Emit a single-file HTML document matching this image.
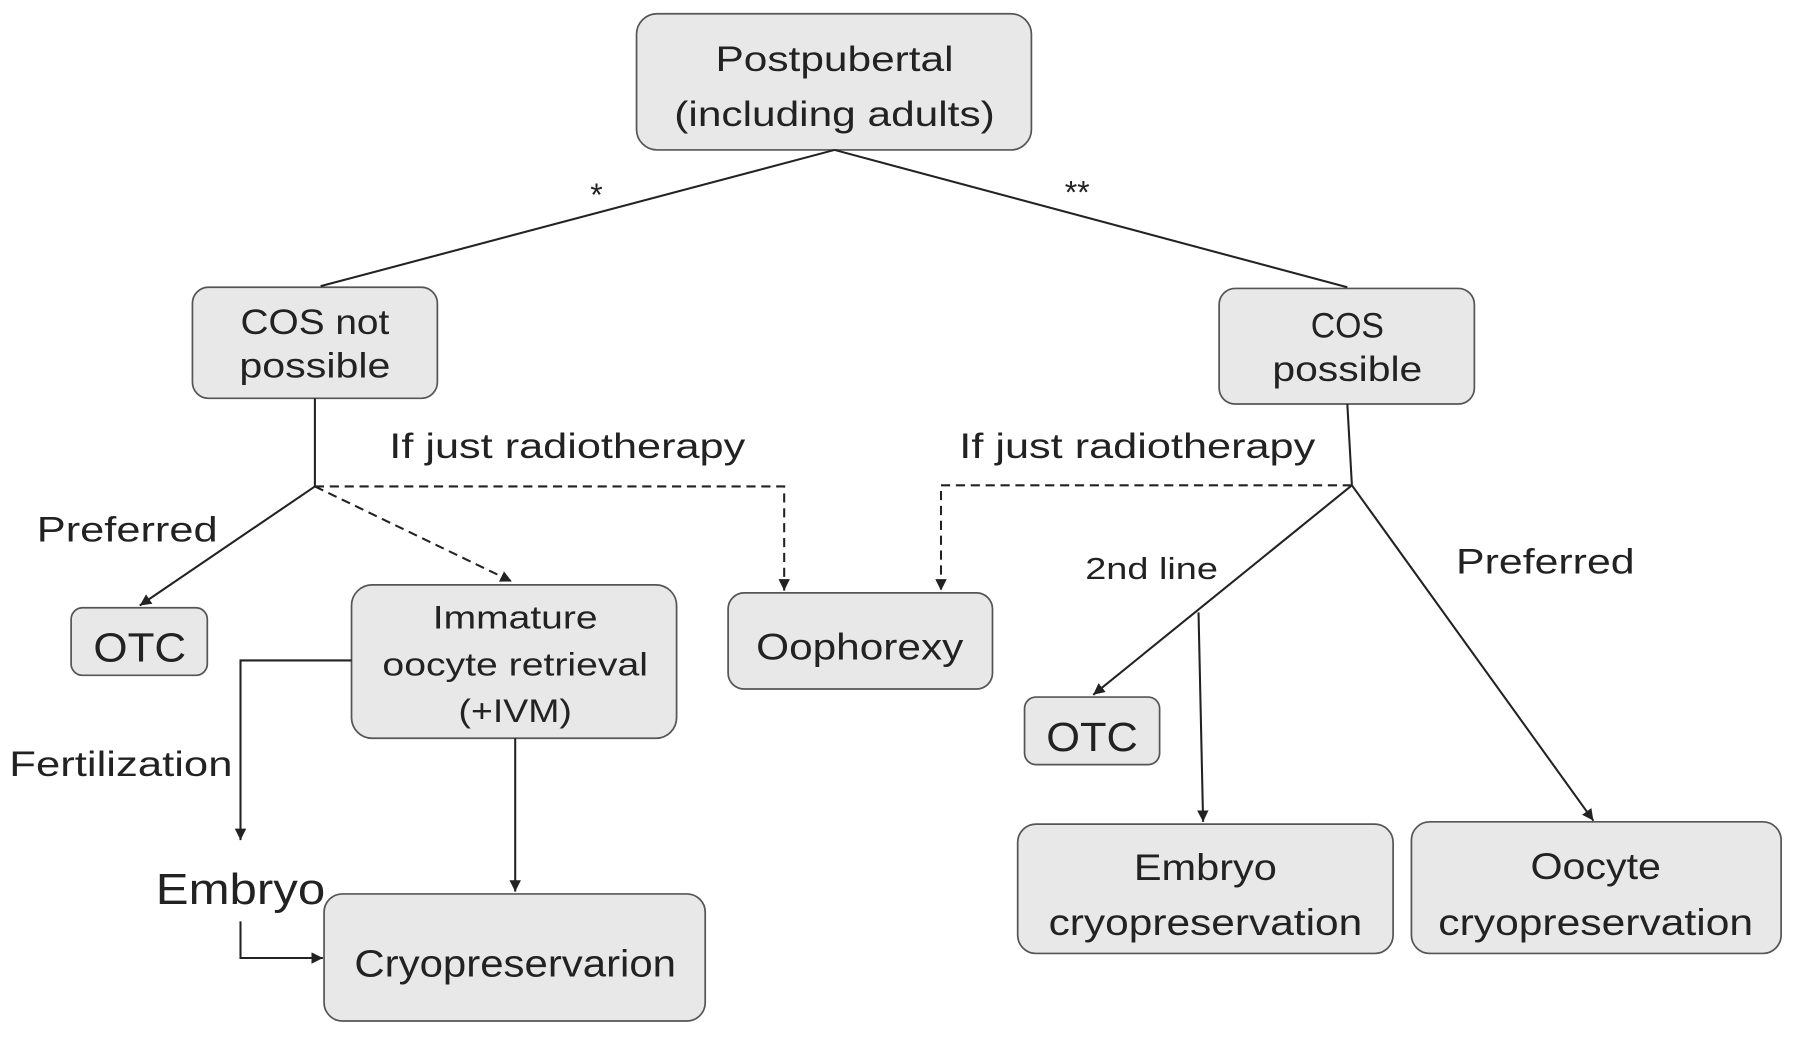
<!DOCTYPE html>
<html><head><style>
html,body{margin:0;padding:0;background:#fff;}
svg{display:block;}
text{font-family:"Liberation Sans",sans-serif;fill:#222;}
</style></head><body>
<svg width="1795" height="1037" viewBox="0 0 1568 906" xmlns="http://www.w3.org/2000/svg">
<defs>
<marker id="a" markerWidth="12" markerHeight="12" refX="10" refY="5" orient="auto" markerUnits="userSpaceOnUse">
<path d="M0,0 L10,5 L0,10 z" fill="#222"/></marker>
</defs>
<g fill="#e8e8e8" stroke="#555" stroke-width="1.5">
<rect x="556" y="12" width="345" height="119" rx="18"/>
<rect x="168" y="251" width="214" height="97" rx="14"/>
<rect x="1065" y="252" width="223" height="101" rx="14"/>
<rect x="62" y="531" width="119" height="59" rx="10"/>
<rect x="307" y="511" width="284" height="134" rx="18"/>
<rect x="636" y="518" width="231" height="84" rx="14"/>
<rect x="895" y="609" width="118" height="59" rx="10"/>
<rect x="889" y="720" width="328" height="113" rx="16"/>
<rect x="1233" y="718" width="323" height="115" rx="16"/>
<rect x="283" y="781" width="333" height="111" rx="16"/>
</g>
<g stroke="#222" stroke-width="1.8" fill="none">
<line x1="729" y1="131" x2="280" y2="250"/>
<line x1="729" y1="131" x2="1177" y2="251"/>
<line x1="275" y1="348" x2="275" y2="425"/>
<line x1="275" y1="425" x2="122" y2="529" marker-end="url(#a)"/>
<polyline points="275,425 685,425 685,516" stroke-dasharray="8,5" marker-end="url(#a)"/>
<line x1="275" y1="425" x2="447" y2="508" stroke-dasharray="8,5" marker-end="url(#a)"/>
<line x1="1177" y1="353" x2="1181" y2="424"/>
<polyline points="1181,424 822,424 822,516" stroke-dasharray="8,5" marker-end="url(#a)"/>
<line x1="1181" y1="424" x2="955" y2="607" marker-end="url(#a)"/>
<line x1="1181" y1="424" x2="1392" y2="717" marker-end="url(#a)"/>
<line x1="1047" y1="535" x2="1051" y2="718" marker-end="url(#a)"/>
<polyline points="307,577 210,577 210,734" marker-end="url(#a)"/>
<polyline points="210,805 210,837 282,837" marker-end="url(#a)"/>
<line x1="450" y1="645" x2="450" y2="779" marker-end="url(#a)"/>
</g>
<g text-anchor="middle" font-size="31" lengthAdjust="spacingAndGlyphs">
<text x="729" y="62" textLength="208" lengthAdjust="spacingAndGlyphs">Postpubertal</text>
<text x="729" y="110" textLength="280" lengthAdjust="spacingAndGlyphs">(including adults)</text>
<text x="275" y="292" textLength="130" lengthAdjust="spacingAndGlyphs">COS not</text>
<text x="275" y="330" textLength="132" lengthAdjust="spacingAndGlyphs">possible</text>
<text x="1177" y="295" textLength="64" lengthAdjust="spacingAndGlyphs">COS</text>
<text x="1177" y="333" textLength="131" lengthAdjust="spacingAndGlyphs">possible</text>
<text x="122" y="578" font-size="36" textLength="81" lengthAdjust="spacingAndGlyphs">OTC</text>
<text x="450" y="549" font-size="28" textLength="144" lengthAdjust="spacingAndGlyphs">Immature</text>
<text x="450" y="590" font-size="28" textLength="232" lengthAdjust="spacingAndGlyphs">oocyte retrieval</text>
<text x="450" y="631" font-size="28" textLength="99" lengthAdjust="spacingAndGlyphs">(+IVM)</text>
<text x="751" y="576" font-size="32" textLength="181" lengthAdjust="spacingAndGlyphs">Oophorexy</text>
<text x="954" y="656" font-size="36" textLength="80" lengthAdjust="spacingAndGlyphs">OTC</text>
<text x="1053" y="769" font-size="32" textLength="125" lengthAdjust="spacingAndGlyphs">Embryo</text>
<text x="1053" y="817" font-size="32" textLength="274" lengthAdjust="spacingAndGlyphs">cryopreservation</text>
<text x="1394" y="768" font-size="32" textLength="114" lengthAdjust="spacingAndGlyphs">Oocyte</text>
<text x="1394" y="817" font-size="32" textLength="275" lengthAdjust="spacingAndGlyphs">cryopreservation</text>
<text x="450" y="853" font-size="33" textLength="281" lengthAdjust="spacingAndGlyphs">Cryopreservarion</text>
<text x="521" y="180" font-size="28">*</text>
<text x="941" y="178" font-size="28">**</text>
</g>
<g font-size="31">
<text x="32" y="473" textLength="158" lengthAdjust="spacingAndGlyphs">Preferred</text>
<text x="340" y="400" textLength="311" lengthAdjust="spacingAndGlyphs">If just radiotherapy</text>
<text x="838" y="400" textLength="311" lengthAdjust="spacingAndGlyphs">If just radiotherapy</text>
<text x="948" y="506" font-size="27" textLength="116" lengthAdjust="spacingAndGlyphs">2nd line</text>
<text x="1272" y="501" textLength="156" lengthAdjust="spacingAndGlyphs">Preferred</text>
<text x="8" y="678" textLength="195" lengthAdjust="spacingAndGlyphs">Fertilization</text>
<text x="136" y="790" font-size="38" textLength="148" lengthAdjust="spacingAndGlyphs">Embryo</text>
</g>
</svg>
</body></html>
